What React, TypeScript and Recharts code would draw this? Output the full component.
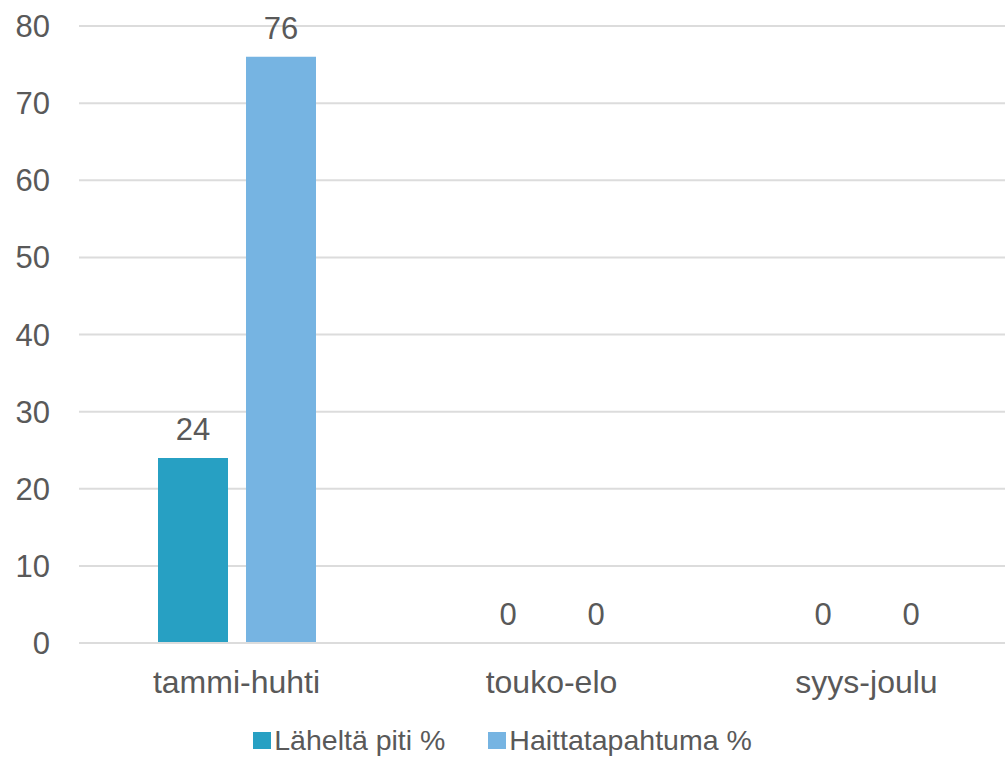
import React from 'react';
import { BarChart, Bar, XAxis, YAxis, CartesianGrid, LabelList } from 'recharts';

const periods = ['tammi-huhti', 'touko-elo', 'syys-joulu'];
const lahelta = [24, 0, 0];
const haitta = [76, 0, 0];
const yTicks = [0, 10, 20, 30, 40, 50, 60, 70, 80];

const series = [
  { key: 'lahelta', name: 'Läheltä piti %', color: '#27A0C3' },
  { key: 'haitta', name: 'Haittatapahtuma %', color: '#76B4E2' },
];

const data = periods.map((name, i) => ({ name, lahelta: lahelta[i], haitta: haitta[i] }));

const FONT = '"Liberation Sans", Arial, sans-serif';
const TEXT = '#595959';

// value label above each bar, drawn for zero-height bars too
const renderValue = (props: any) => {
  const { x, y, width, value } = props;
  if (value === undefined || value === null) return null;
  return (
    <text
      x={Number(x) + Number(width) / 2}
      y={Number(y) - 18}
      textAnchor="middle"
      fontSize={31}
      fill={TEXT}
      fontFamily={FONT}
    >
      {value}
    </text>
  );
};

const App = () => {
  return (
    <div
      style={{
        position: 'fixed',
        top: 0,
        left: 0,
        width: 1005,
        height: 758,
        overflow: 'hidden',
        background: '#fff',
        fontFamily: FONT,
      }}
    >
      <BarChart
        width={1030}
        height={758}
        data={data}
        margin={{ top: 26, right: 6, left: 0, bottom: 55 }}
        barSize={70}
        barGap={18}
      >
        <CartesianGrid vertical={false} stroke="#DCDCDC" strokeWidth={2} />
        <XAxis
          dataKey="name"
          height={60}
          tickLine={false}
          tickSize={0}
          tickMargin={27}
          axisLine={{ stroke: '#DCDCDC', strokeWidth: 2 }}
          tick={{ fontSize: 32, fill: TEXT, fontFamily: FONT }}
        />
        <YAxis
          width={79}
          domain={[0, 80]}
          ticks={yTicks}
          interval={0}
          axisLine={false}
          tickLine={false}
          tickSize={0}
          tickMargin={29}
          tick={{ fontSize: 31, fill: TEXT, fontFamily: FONT }}
        />
        {series.map((s) => (
          <Bar
            key={s.key}
            dataKey={s.key}
            name={s.name}
            fill={s.color}
            minPointSize={0.01}
            isAnimationActive={false}
          >
            <LabelList dataKey={s.key} content={renderValue} />
          </Bar>
        ))}
      </BarChart>
      <div
        style={{
          position: 'absolute',
          top: 722,
          left: 0,
          width: 1005,
          display: 'flex',
          justifyContent: 'center',
          alignItems: 'center',
          fontSize: 28.5,
          lineHeight: '36px',
          color: TEXT,
        }}
      >
        {series.map((s, i) => (
          <div key={s.key} style={{ display: 'flex', alignItems: 'center', marginLeft: i === 0 ? 0 : 43 }}>
            <span style={{ width: 18, height: 17, background: s.color, marginRight: 3, display: 'inline-block' }} />
            <span>{s.name}</span>
          </div>
        ))}
      </div>
    </div>
  );
};

export default App;
